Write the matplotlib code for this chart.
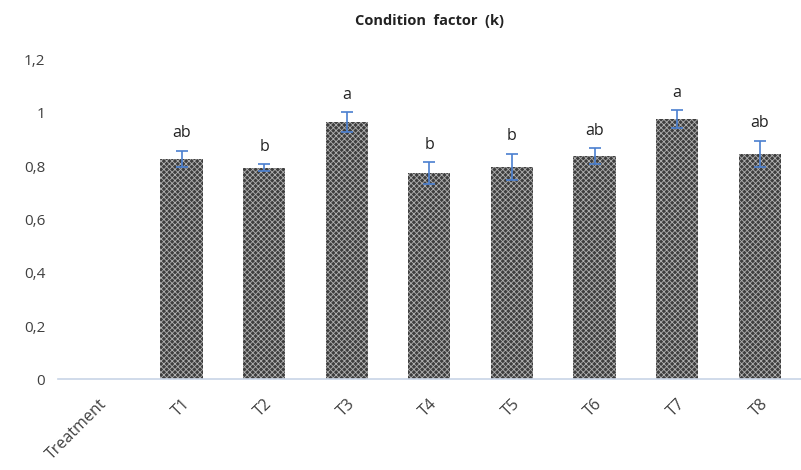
import matplotlib.pyplot as plt
import numpy as np

categories = ["Treatment", "T1", "T2", "T3", "T4", "T5", "T6", "T7", "T8"]
values = [np.nan, 0.828, 0.795, 0.965, 0.775, 0.797, 0.839, 0.977, 0.846]
errors = [np.nan, 0.030, 0.012, 0.038, 0.040, 0.050, 0.030, 0.033, 0.050]
letters = ["", "ab", "b", "a", "b", "b", "ab", "a", "ab"]
yticks = [0, 0.2, 0.4, 0.6, 0.8, 1.0, 1.2]
ytick_labels = ["0", "0,2", "0,4", "0,6", "0,8", "1", "1,2"]

plt.rcParams["hatch.linewidth"] = 0.6
plt.rcParams["hatch.color"] = "#b0b0b0"
plt.rcParams["font.family"] = ["Open Sans", "DejaVu Sans"]

fig = plt.figure(figsize=(8.01, 4.70), dpi=100)
ax = fig.add_axes([0.072, 0.193, 0.928, 0.68])

x = np.arange(len(categories))
ax.bar(x, values, width=0.51, color="#3e3e3e", hatch="xxxxxx", edgecolor="#b0b0b0",
       linewidth=0)
ax.errorbar(x, values, yerr=errors, fmt="none", ecolor="#4a7fd0", elinewidth=1.2,
            capsize=4, capthick=1.2)

for xi, v, e, lab in zip(x, values, errors, letters):
    if lab:
        ax.text(xi, v + e + 0.035, lab, ha="center", va="bottom", fontsize=11.5,
                color="#222222")

ax.set_xlim(-0.5, len(categories) - 0.5)
ax.set_ylim(0, 1.2)
ax.set_yticks(yticks)
ax.set_yticklabels(ytick_labels)
ax.set_xticks(x)
ax.set_xticklabels(categories, rotation=45, ha="right", rotation_mode="anchor")
ax.tick_params(length=0, colors="#404040")
ax.tick_params(axis="y", pad=9, labelsize=11)
ax.tick_params(axis="x", pad=12, labelsize=11.5)
for s in ["top", "right", "left"]:
    ax.spines[s].set_visible(False)
ax.spines["bottom"].set_color("#c8d4e6")
ax.spines["bottom"].set_linewidth(1.2)

fig.text(0.536, 0.955, "Condition  factor  (k)", ha="center", va="center",
         fontsize=10.5, fontweight="bold", color="#222222")

fig.savefig("out.png", dpi=100)
